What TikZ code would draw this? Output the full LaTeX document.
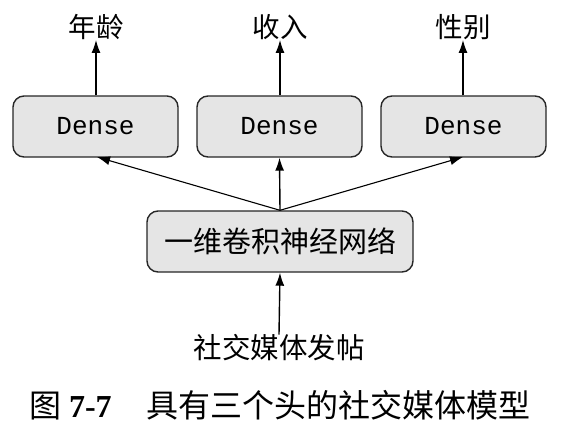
\documentclass[tikz,border=0pt]{standalone}
\usepackage{fontspec}
\setmainfont{Liberation Serif}
\setmonofont{Liberation Mono}
\newfontfamily\cjk{Noto Sans CJK SC}
\usetikzlibrary{arrows.meta}
\begin{document}
\begin{tikzpicture}[x=1pt,y=-1pt,
  box/.style={draw=black!85,line width=1.4pt,fill=black!10,rounded corners=11pt,inner sep=0pt},
  densebox/.style={box,minimum width=165pt,minimum height=61pt,font=\ttfamily\fontsize{26}{26}\selectfont},
  lbl/.style={font=\cjk\fontsize{27.5}{27.5}\selectfont,inner sep=0pt},
  arr/.style={line width=1.4pt,-{Latex[length=13pt,width=9pt]}},
  thinarr/.style={line width=1.1pt,-{Latex[length=13pt,width=9pt]}}]
\useasboundingbox (0,0) rectangle (562,432);
\node[densebox] (d1) at (95.5,126.5) {Dense};
\node[densebox] (d2) at (279.5,126.5) {Dense};
\node[densebox] (d3) at (463.5,126.5) {Dense};
\node[lbl] (o1) at (96,27) {年龄};
\node[lbl] (o2) at (280,27) {收入};
\node[lbl] (o3) at (463,27) {性别};
\node[box,minimum width=266pt,minimum height=61pt,font=\cjk\fontsize{29}{29}\selectfont] (cnn) at (280,241.5) {一维卷积神经网络};
\node[lbl,font=\cjk\fontsize{28.5}{28.5}\selectfont] (in) at (279,348) {社交媒体发帖};
\node[inner sep=0pt,font=\fontsize{32}{32}\selectfont] (cap) at (280,405) {{\cjk 图} \textbf{7-7}\hspace{1.1em}{\cjk 具有三个头的社交媒体模型}};
\draw[arr] (d1.north -| o1) -- (o1.south);
\draw[arr] (d2.north -| o2) -- (o2.south);
\draw[arr] (d3.north -| o3) -- (o3.south);
\coordinate (c1) at (97,157);
\coordinate (c3) at (463,157);
\draw[thinarr] (cnn.north) -- (c1);
\draw[arr] (cnn.north) -- (d2.south);
\draw[thinarr] (cnn.north) -- (c3);
\draw[arr] (in.north) -- (cnn.south);
\end{tikzpicture}
\end{document}
